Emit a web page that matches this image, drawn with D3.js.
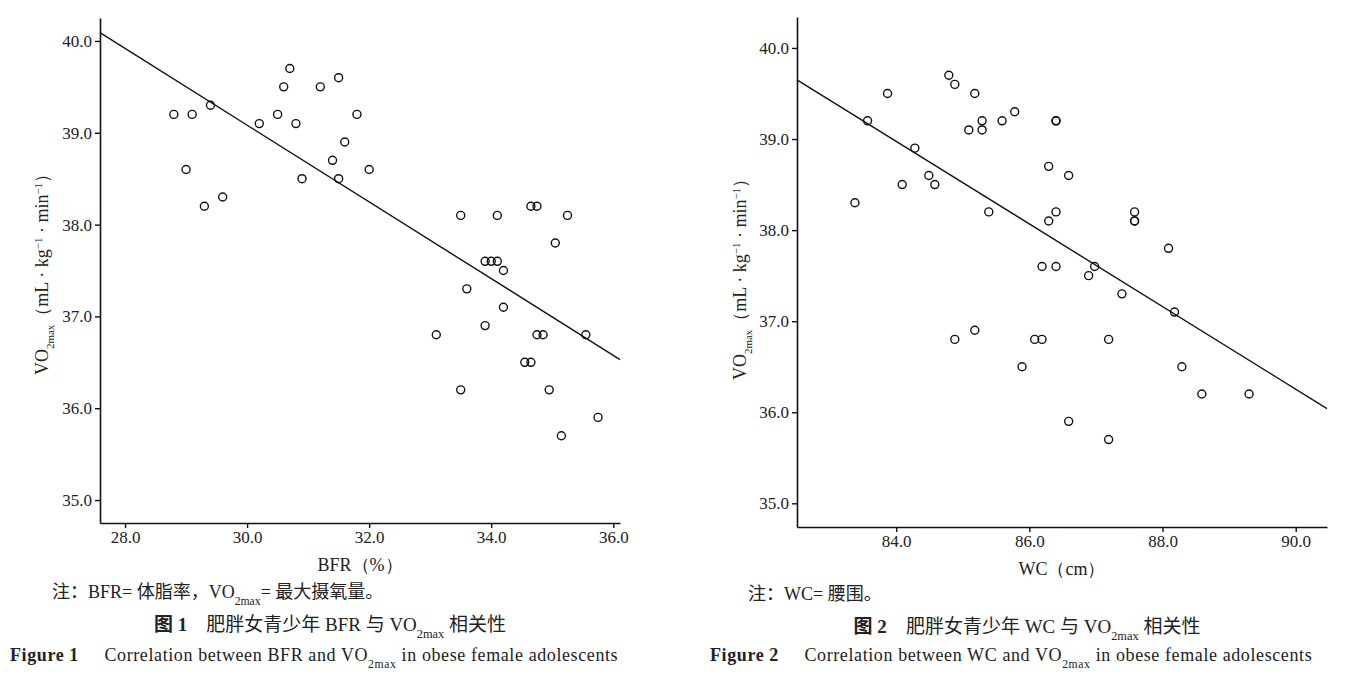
<!DOCTYPE html>
<html><head><meta charset="utf-8">
<script src="https://cdn.jsdelivr.net/npm/d3@7"></script>
<style>body{margin:0;background:#fff}text{fill:#222}</style>
</head><body><div id="chart"></div>
<script>
// chart 1: BFR vs VO2max
var bfr = [28.8,29.1,29.4,29.0,29.3,29.6,30.2,30.5,30.6,30.7,30.8,30.9,31.2,31.5,31.4,31.5,31.6,31.8,32.0,
  33.5,34.1,34.65,34.75,35.25,35.05,33.9,34.0,34.1,34.2,33.6,34.2,33.9,33.1,34.75,34.85,35.55,34.55,34.65,33.5,34.95,35.75,35.15];
var vo1 = [39.2,39.2,39.3,38.6,38.2,38.3,39.1,39.2,39.5,39.7,39.1,38.5,39.5,39.6,38.7,38.5,38.9,39.2,38.6,
  38.1,38.1,38.2,38.2,38.1,37.8,37.6,37.6,37.6,37.5,37.3,37.1,36.9,36.8,36.8,36.8,36.8,36.5,36.5,36.2,36.2,35.9,35.7];
var fit1 = [[27.59,40.09],[36.11,36.53]];
// chart 2: WC vs VO2max
var wc = [83.38,83.57,83.87,84.09,84.28,84.49,84.58,84.79,84.88,84.88,85.09,85.18,85.18,85.29,85.29,85.39,85.59,85.78,85.89,86.08,86.19,86.19,86.29,86.29,86.4,86.4,86.4,86.4,86.59,86.59,86.89,86.98,87.19,87.19,87.39,87.58,87.58,87.58,88.09,88.18,88.29,88.59,89.3];
var vo2 = [38.3,39.2,39.5,38.5,38.9,38.6,38.5,39.7,39.6,36.8,39.1,39.5,36.9,39.2,39.1,38.2,39.2,39.3,36.5,36.8,36.8,37.6,38.7,38.1,39.2,39.2,38.2,37.6,38.6,35.9,37.5,37.6,36.8,35.7,37.3,38.2,38.1,38.1,37.8,37.1,36.5,36.2,36.2];
var fit2 = [[82.51,39.65],[90.47,36.04]];
var yTicks = [35,36,37,38,39,40];

var svg = d3.select("#chart").append("svg").attr("width",1364).attr("height",685)
  .style("font-family","'Liberation Serif',serif");

function panel(o) {
  var x = d3.scaleLinear().domain(o.xd).range([o.left,o.right]);
  var y = d3.scaleLinear().domain(o.yd).range([o.bottom,o.top]);
  var g = svg.append("g");
  var xa = g.append("g").attr("transform","translate(0,"+o.bottom+")")
    .call(d3.axisBottom(x).tickValues(o.xt).tickSize(5).tickFormat(d3.format(".1f")).tickSizeOuter(0));
  var ya = g.append("g").attr("transform","translate("+o.left+",0)")
    .call(d3.axisLeft(y).tickValues(yTicks).tickSize(5).tickFormat(d3.format(".1f")).tickSizeOuter(0));
  [xa,ya].forEach(function(a){
    a.attr("font-family","'Liberation Serif',serif");
    a.select(".domain").attr("stroke","#111").attr("stroke-width",1.6);
    a.selectAll("line").attr("stroke","#111").attr("stroke-width",1.4);
    a.selectAll("text").style("font-size","17px").style("fill","#222");
  });
  g.append("line").attr("x1",x(o.fit[0][0])).attr("y1",y(o.fit[0][1]))
    .attr("x2",x(o.fit[1][0])).attr("y2",y(o.fit[1][1])).attr("stroke","#111").attr("stroke-width",1.4);
  g.selectAll("circle.p").data(o.xs).enter().append("circle")
    .attr("cx",function(d){return x(d);}).attr("cy",function(d,i){return y(o.ys[i]);})
    .attr("r",4).attr("fill","none").attr("stroke","#111").attr("stroke-width",1.4);
  // y label
  var yl = g.append("text").attr("transform","translate("+o.ylx+","+o.yly+") rotate(-90)")
    .attr("text-anchor","middle").style("font-size","18px");
  yl.append("tspan").text("VO");
  yl.append("tspan").attr("baseline-shift","sub").style("font-size","11px").text("2max");
  yl.append("tspan").text("（mL · kg");
  yl.append("tspan").attr("baseline-shift","super").style("font-size","11px").text("−1");
  yl.append("tspan").text(" · min");
  yl.append("tspan").attr("baseline-shift","super").style("font-size","11px").text("−1");
  yl.append("tspan").text("）");
  g.append("text").attr("x",(o.left+o.right)/2).attr("y",o.bottom+48).attr("text-anchor","middle")
    .style("font-size","18px").text(o.xlabel);
}

panel({xd:[27.59,36.11],yd:[34.75,40.25],left:100,right:620,top:18,bottom:523,
  xt:[28,30,32,34,36],xs:bfr,ys:vo1,fit:fit1,ylx:48,yly:270,xlabel:"BFR（%）"});
panel({xd:[82.51,90.47],yd:[34.74,40.34],left:797,right:1327,top:17,bottom:527,
  xt:[84,86,88,90],xs:wc,ys:vo2,fit:fit2,ylx:746,yly:275,xlabel:"WC（cm）"});

function sub(t, parts, size){
  parts.forEach(function(p){
    var s = t.append("tspan").text(p[0]);
    if (p[1]) s.attr("baseline-shift","sub").style("font-size",(size*0.65)+"px");
  });
}
var cjk = "'Liberation Serif','Noto Sans CJK SC',serif";
var n1 = svg.append("text").attr("x",52).attr("y",598).style("font-size","18px").style("font-family",cjk);
sub(n1,[["注：BFR= 体脂率，VO"],["2max",1],["= 最大摄氧量。"]],18);
var n2 = svg.append("text").attr("x",748).attr("y",600).style("font-size","18px").style("font-family",cjk);
sub(n2,[["注：WC= 腰围。"]],18);
var t1 = svg.append("text").attr("x",330).attr("y",631).attr("text-anchor","middle").style("font-size","19px").style("font-family",cjk);
t1.append("tspan").style("font-weight","bold").text("图 1");
sub(t1,[["　肥胖女青少年 BFR 与 VO"],["2max",1],[" 相关性"]],19);
var t2 = svg.append("text").attr("x",1027).attr("y",633).attr("text-anchor","middle").style("font-size","19px").style("font-family",cjk);
t2.append("tspan").style("font-weight","bold").text("图 2");
sub(t2,[["　肥胖女青少年 WC 与 VO"],["2max",1],[" 相关性"]],19);
var f1 = svg.append("text").attr("x",10).attr("y",661).style("font-size","18px").style("letter-spacing","0.6px");
f1.append("tspan").style("font-weight","bold").text("Figure 1");
sub(f1,[["     Correlation between BFR and VO"],["2max",1],[" in obese female adolescents"]],18);
var f2 = svg.append("text").attr("x",710).attr("y",661).style("font-size","18px").style("letter-spacing","0.6px");
f2.append("tspan").style("font-weight","bold").text("Figure 2");
sub(f2,[["     Correlation between WC and VO"],["2max",1],[" in obese female adolescents"]],18);
svg.selectAll("text").attr("xml:space","preserve");
</script></body></html>
